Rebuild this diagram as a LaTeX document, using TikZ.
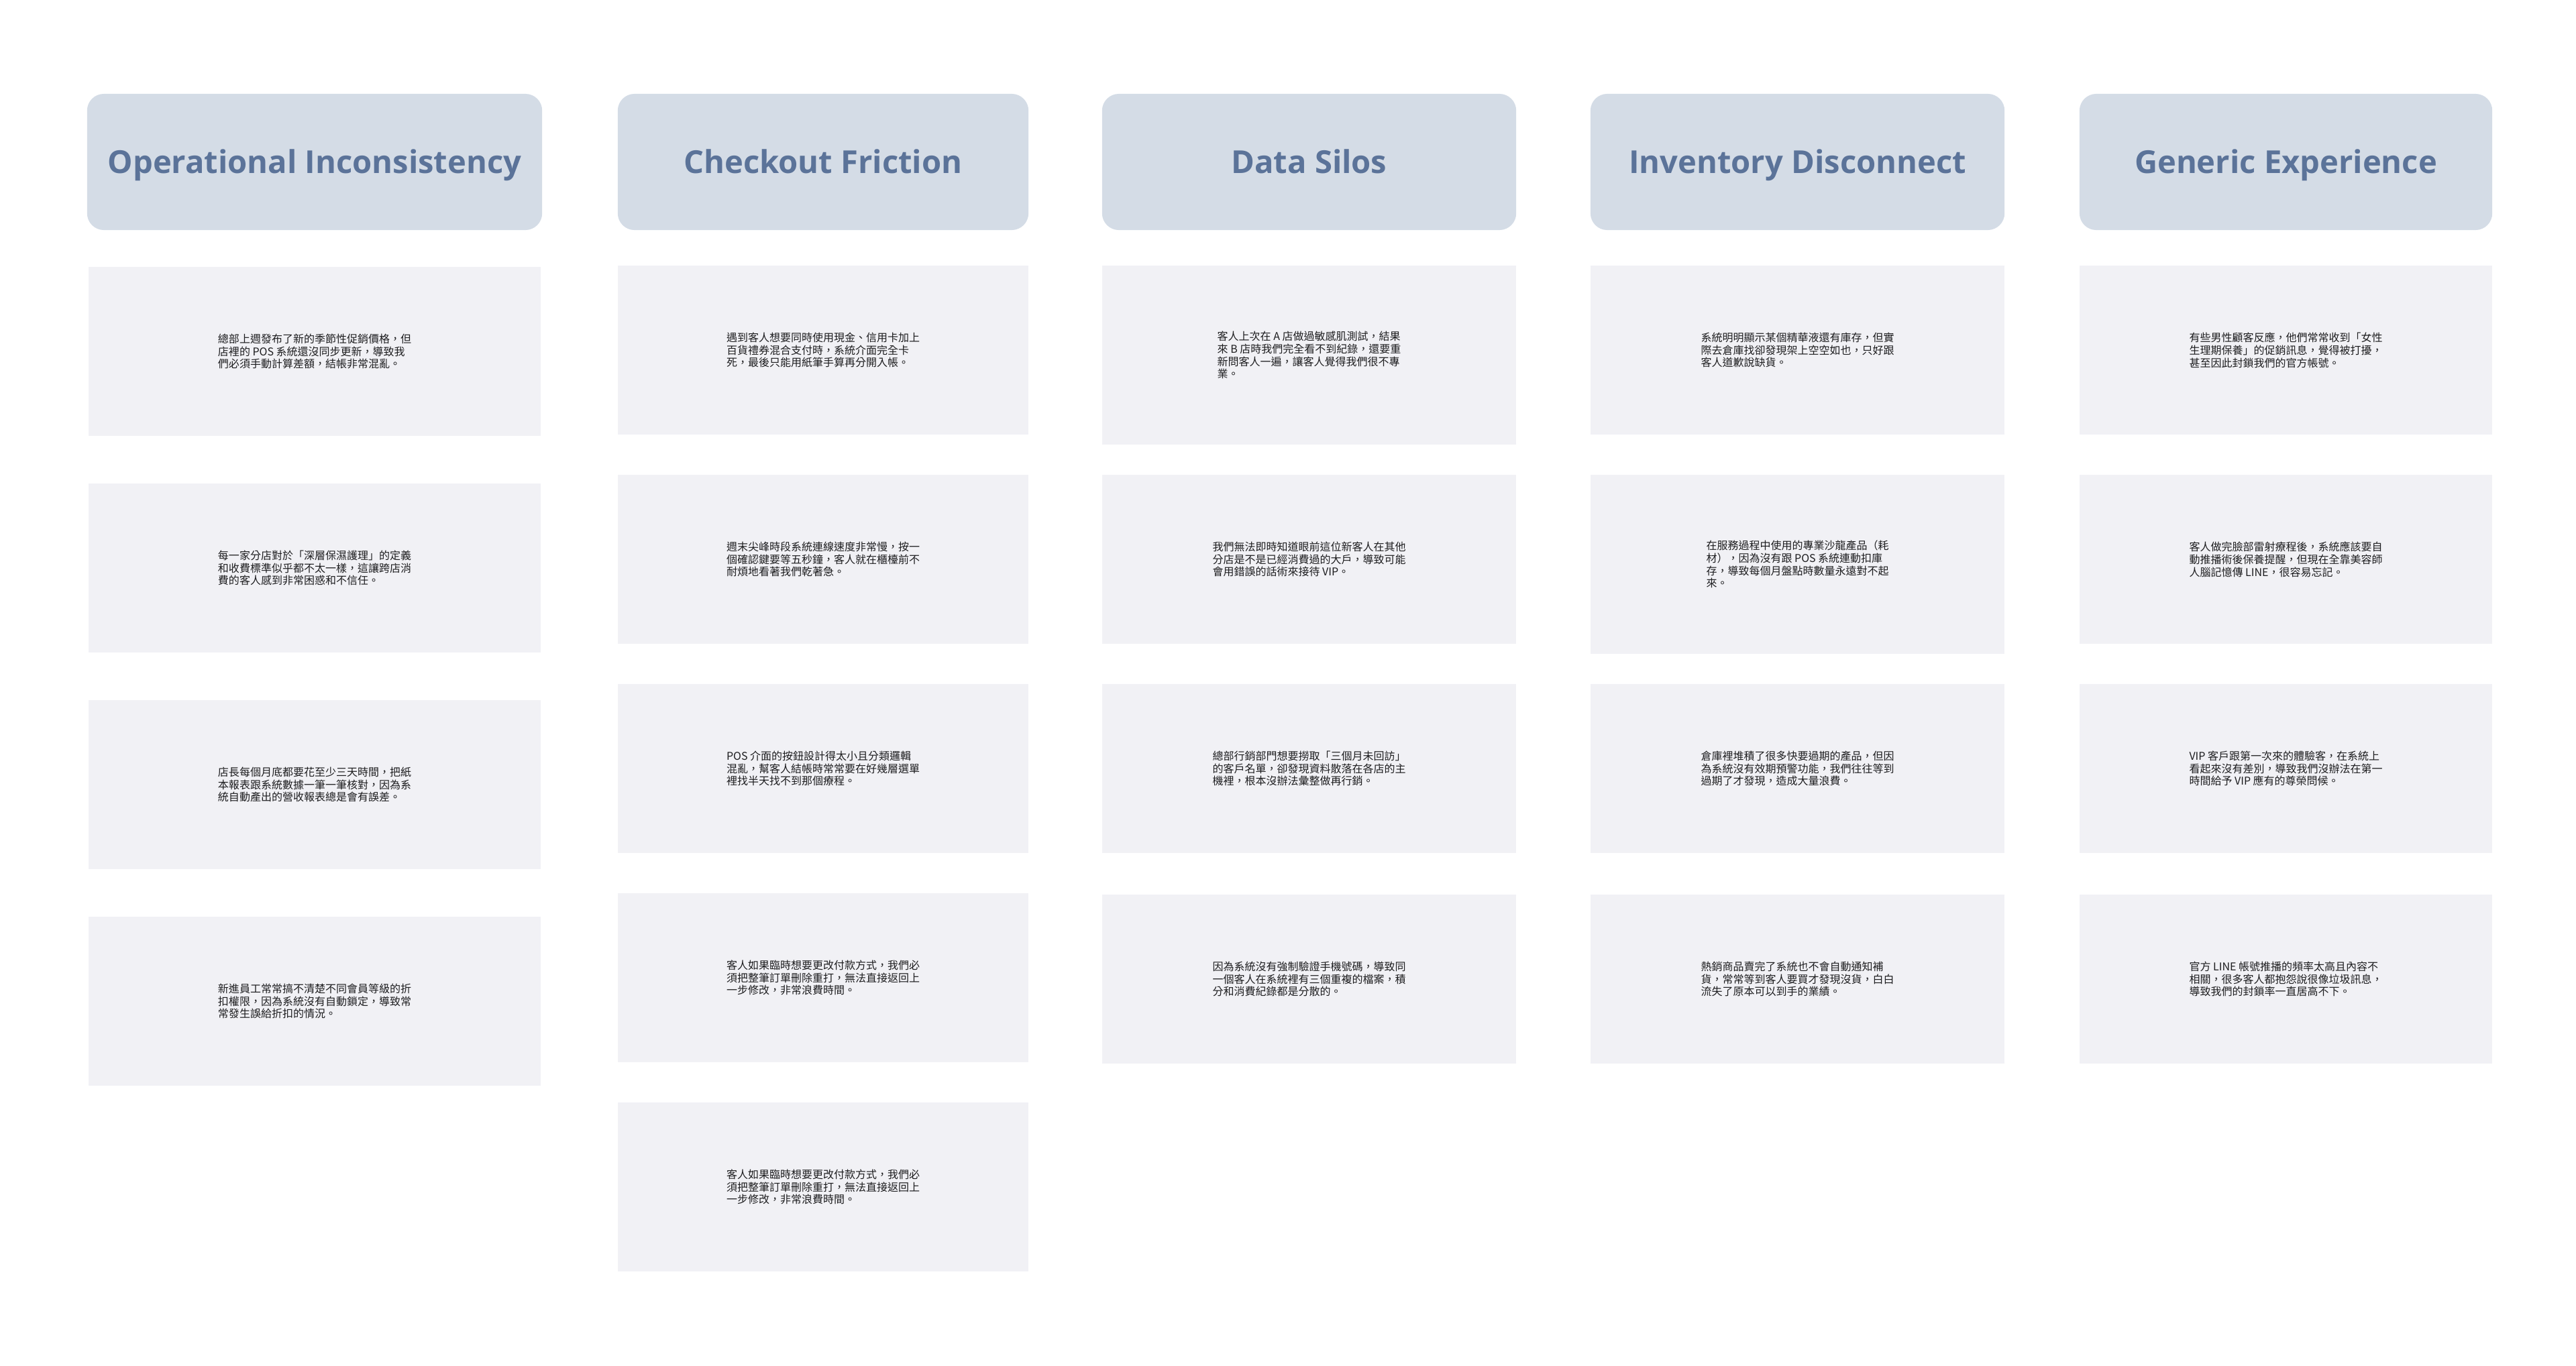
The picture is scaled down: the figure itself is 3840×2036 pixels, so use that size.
\documentclass[tikz,border=0pt]{standalone}
\usepackage{fontspec}
\newfontfamily\cjk{Noto Sans CJK TC}
\newfontfamily\titrefont{Open Sans}
\definecolor{titrefond}{HTML}{D4DCE6}
\definecolor{titretexte}{HTML}{5B7399}
\definecolor{cartefond}{HTML}{F1F1F5}
\definecolor{cartetexte}{HTML}{1D1D1F}

\begin{document}
\begin{tikzpicture}[x=0.01cm,y=-0.01cm]
% Styles
\tikzstyle{titre}=[fill=titrefond,rounded corners=0.25cm,inner sep=0pt,minimum height=2.03cm,text height=1.0em,text depth=0.02em,text=titretexte,font=\titrefont\bfseries\fontsize{13.4}{16}\selectfont]
\tikzstyle{carte}=[fill=cartefond,inner sep=0pt,minimum height=2.52cm,align=left,text=cartetexte,font=\cjk\fontsize{4.55}{5.35}\selectfont]
\tikzstyle{haute}=[minimum height=2.67cm]
% Dimensions
\def\ColA{469}
\def\ColB{1227}
\def\ColC{1951.5}
\def\ColD{2679.5}
\def\ColE{3407.5}
\def\NiveauTitre{241.5}
\useasboundingbox (0,0) rectangle (3840,2036);
% Titres
\node[titre,minimum width=6.78cm] (Ta) at (\ColA,\NiveauTitre) {Operational Inconsistency};
\node[titre,minimum width=6.12cm] (Tb) at (\ColB,\NiveauTitre) {Checkout Friction};
\node[titre,minimum width=6.17cm] (Tc) at (\ColC,\NiveauTitre) {Data Silos};
\node[titre,minimum width=6.17cm] (Td) at (\ColD,\NiveauTitre) {Inventory Disconnect};
\node[titre,minimum width=6.15cm] (Te) at (\ColE,\NiveauTitre) {Generic Experience};
% Cartes A
\begin{scope}[every node/.append style={minimum width=6.74cm}]
\node[carte] (Aa) at (\ColA,524) {總部上週發布了新的季節性促銷價格，但\\店裡的 POS 系統還沒同步更新，導致我\\們必須手動計算差額，結帳非常混亂。};
\node[carte] (Ab) at (\ColA,847) {每一家分店對於「深層保濕護理」的定義\\和收費標準似乎都不太一樣，這讓跨店消\\費的客人感到非常困惑和不信任。};
\node[carte] (Ac) at (\ColA,1170) {店長每個月底都要花至少三天時間，把紙\\本報表跟系統數據一筆一筆核對，因為系\\統自動產出的營收報表總是會有誤差。};
\node[carte] (Ad) at (\ColA,1493) {新進員工常常搞不清楚不同會員等級的折\\扣權限，因為系統沒有自動鎖定，導致常\\常發生誤給折扣的情況。};
\end{scope}
% Cartes B
\begin{scope}[every node/.append style={minimum width=6.12cm}]
\node[carte] (Ba) at (\ColB,522) {遇到客人想要同時使用現金、信用卡加上\\百貨禮券混合支付時，系統介面完全卡\\死，最後只能用紙筆手算再分開入帳。};
\node[carte] (Bb) at (\ColB,834) {週末尖峰時段系統連線速度非常慢，按一\\個確認鍵要等五秒鐘，客人就在櫃檯前不\\耐煩地看著我們乾著急。};
\node[carte] (Bc) at (\ColB,1146) {POS 介面的按鈕設計得太小且分類邏輯\\混亂，幫客人結帳時常常要在好幾層選單\\裡找半天找不到那個療程。};
\node[carte] (Bd) at (\ColB,1458) {客人如果臨時想要更改付款方式，我們必\\須把整筆訂單刪除重打，無法直接返回上\\一步修改，非常浪費時間。};
\node[carte] (Be) at (\ColB,1770) {客人如果臨時想要更改付款方式，我們必\\須把整筆訂單刪除重打，無法直接返回上\\一步修改，非常浪費時間。};
\end{scope}
% Cartes C
\begin{scope}[every node/.append style={minimum width=6.17cm}]
\node[carte,haute] (Ca) at (\ColC,529.5) {客人上次在 A 店做過敏感肌測試，結果\\來 B 店時我們完全看不到紀錄，還要重\\新問客人一遍，讓客人覺得我們很不專\\業。};
\node[carte] (Cb) at (\ColC,834) {我們無法即時知道眼前這位新客人在其他\\分店是不是已經消費過的大戶，導致可能\\會用錯誤的話術來接待 VIP。};
\node[carte] (Cc) at (\ColC,1146) {總部行銷部門想要撈取「三個月未回訪」\\的客戶名單，卻發現資料散落在各店的主\\機裡，根本沒辦法彙整做再行銷。};
\node[carte] (Cd) at (\ColC,1460) {因為系統沒有強制驗證手機號碼，導致同\\一個客人在系統裡有三個重複的檔案，積\\分和消費紀錄都是分散的。};
\end{scope}
% Cartes D
\begin{scope}[every node/.append style={minimum width=6.17cm}]
\node[carte] (Da) at (\ColD,522) {系統明明顯示某個精華液還有庫存，但實\\際去倉庫找卻發現架上空空如也，只好跟\\客人道歉說缺貨。};
\node[carte,haute] (Db) at (\ColD,841.5) {在服務過程中使用的專業沙龍產品（耗\\材），因為沒有跟 POS 系統連動扣庫\\存，導致每個月盤點時數量永遠對不起\\來。};
\node[carte] (Dc) at (\ColD,1146) {倉庫裡堆積了很多快要過期的產品，但因\\為系統沒有效期預警功能，我們往往等到\\過期了才發現，造成大量浪費。};
\node[carte] (Dd) at (\ColD,1460) {熱銷商品賣完了系統也不會自動通知補\\貨，常常等到客人要買才發現沒貨，白白\\流失了原本可以到手的業績。};
\end{scope}
% Cartes E
\begin{scope}[every node/.append style={minimum width=6.15cm}]
\node[carte] (Ea) at (\ColE,522) {有些男性顧客反應，他們常常收到「女性\\生理期保養」的促銷訊息，覺得被打擾，\\甚至因此封鎖我們的官方帳號。};
\node[carte] (Eb) at (\ColE,834) {客人做完臉部雷射療程後，系統應該要自\\動推播術後保養提醒，但現在全靠美容師\\人腦記憶傳 LINE，很容易忘記。};
\node[carte] (Ec) at (\ColE,1146) {VIP 客戶跟第一次來的體驗客，在系統上\\看起來沒有差別，導致我們沒辦法在第一\\時間給予 VIP 應有的尊榮問候。};
\node[carte] (Ed) at (\ColE,1460) {官方 LINE 帳號推播的頻率太高且內容不\\相關，很多客人都抱怨說很像垃圾訊息，\\導致我們的封鎖率一直居高不下。};
\end{scope}
\end{tikzpicture}
\end{document}
